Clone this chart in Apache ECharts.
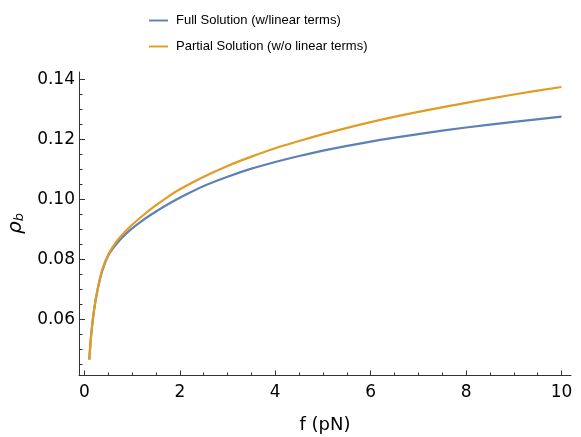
<!DOCTYPE html>
<html>
<head>
<meta charset="utf-8">
<script src="https://cdn.jsdelivr.net/npm/echarts@6/dist/echarts.min.js"></script>
<style>
  html, body { margin: 0; padding: 0; background: #ffffff; }
  #chart { width: 581px; height: 437px; }
</style>
</head>
<body>
<div id="chart"></div>
<script>
// force in pN
const f_values = [0.1, 0.143, 0.2, 0.27, 0.37, 0.51, 0.69, 0.86, 1.0, 1.25, 1.5, 1.75, 2.0, 2.5, 3.0, 3.5, 4.0, 4.5, 5.0, 6.0, 7.0, 8.0, 9.0, 10.0];
const full_values = [0.0466, 0.0553, 0.0630, 0.0695, 0.0761, 0.0817, 0.0856, 0.0884, 0.0904, 0.0934, 0.0960, 0.0984, 0.1006, 0.1045, 0.1076, 0.1103, 0.1125, 0.1145, 0.1163, 0.1193, 0.1218, 0.1240, 0.1259, 0.1276];
const partial_values = [0.0466, 0.0554, 0.0632, 0.0698, 0.0765, 0.0820, 0.0864, 0.0894, 0.0916, 0.0950, 0.0981, 0.1009, 0.1034, 0.1076, 0.1112, 0.1143, 0.1171, 0.1195, 0.1218, 0.1258, 0.1292, 0.1322, 0.1350, 0.1375];

const x_major = [0, 2, 4, 6, 8, 10];
const x_minor = [0.5, 1, 1.5, 2.5, 3, 3.5, 4.5, 5, 5.5, 6.5, 7, 7.5, 8.5, 9, 9.5];
const y_major = [0.06, 0.08, 0.10, 0.12, 0.14];
const y_minor = [0.045, 0.05, 0.055, 0.065, 0.07, 0.075, 0.085, 0.09, 0.095, 0.105, 0.11, 0.115, 0.125, 0.13, 0.135];

const series_names = ["Full Solution (w/linear terms)", "Partial Solution (w/o linear terms)"];
const series_colors = ["#5e81b5", "#e19c24"];

const X_MIN = -0.115, X_MAX = 10.2;
const Y_MIN = 0.0415, Y_MAX = 0.1425;
const AXIS_COLOR = "#333333";
const TICK_FONT = "DejaVu Sans";

const pairs = (vals) => f_values.map((f, i) => [f, vals[i]]);

// major axis carries line, labels and long ticks; minor one only short ticks
function x_axis(is_minor) {
    return {
        type: "value",
        min: X_MIN,
        max: X_MAX,
        position: "bottom",
        name: is_minor ? "" : "f (pN)",
        nameLocation: "middle",
        nameGap: 41,
        nameTextStyle: { color: "#000", fontFamily: TICK_FONT, fontSize: 18 },
        axisLine: { show: !is_minor, onZero: false, lineStyle: { color: AXIS_COLOR, width: 1 } },
        axisTick: {
            show: true,
            inside: true,
            length: is_minor ? 2.5 : 4.5,
            customValues: is_minor ? x_minor : x_major,
            lineStyle: { color: AXIS_COLOR, width: 1 },
        },
        axisLabel: {
            show: !is_minor,
            customValues: x_major,
            margin: 9,
            color: "#000",
            fontFamily: TICK_FONT,
            fontSize: 17,
            formatter: (v) => String(Math.round(v)),
        },
        splitLine: { show: false },
    };
}

function y_axis(is_minor) {
    return {
        type: "value",
        min: Y_MIN,
        max: Y_MAX,
        position: "left",
        name: is_minor ? "" : "{a|ρ}{b|b}",
        nameLocation: "middle",
        nameRotate: 90,
        nameGap: 49,
        nameTextStyle: {
            rich: {
                a: { fontFamily: TICK_FONT, fontStyle: "italic", fontSize: 20, color: "#000", verticalAlign: "bottom", lineHeight: 26 },
                b: { fontFamily: TICK_FONT, fontStyle: "italic", fontSize: 13, color: "#000", verticalAlign: "bottom", lineHeight: 16 },
            },
        },
        axisLine: { show: !is_minor, onZero: false, lineStyle: { color: AXIS_COLOR, width: 1 } },
        axisTick: {
            show: true,
            inside: true,
            length: is_minor ? 3.5 : 6,
            customValues: is_minor ? y_minor : y_major,
            lineStyle: { color: AXIS_COLOR, width: 1 },
        },
        axisLabel: {
            show: !is_minor,
            customValues: y_major,
            margin: 4,
            color: "#000",
            fontFamily: TICK_FONT,
            fontSize: 17,
            formatter: (v) => v.toFixed(2),
        },
        splitLine: { show: false },
    };
}

const chart = echarts.init(document.getElementById("chart"), null, { renderer: "canvas" });

chart.setOption({
    animation: false,
    backgroundColor: "#ffffff",
    // v6 would otherwise shrink the grid to keep the axis name inside
    grid: { left: 79, right: 10, top: 72, bottom: 62, containLabel: false, outerBoundsMode: "none" },
    legend: {
        orient: "vertical",
        left: 149,
        top: 14,
        padding: 0,
        itemWidth: 19,
        itemHeight: 14,
        itemGap: 13,
        icon: "path://M0,6H20V8H0Z",
        textStyle: { fontFamily: "Liberation Sans", fontSize: 13, color: "#000", padding: [0, 0, 0, 3] },
        data: series_names,
    },
    xAxis: [x_axis(false), x_axis(true)],
    yAxis: [y_axis(false), y_axis(true)],
    series: series_names.map((name, i) => ({
        name,
        type: "line",
        xAxisIndex: 0,
        yAxisIndex: 0,
        data: pairs(i === 0 ? full_values : partial_values),
        smooth: 0.3,
        showSymbol: false,
        lineStyle: { color: series_colors[i], width: 2.2 },
        itemStyle: { color: series_colors[i] },
    })),
});
</script>
</body>
</html>
